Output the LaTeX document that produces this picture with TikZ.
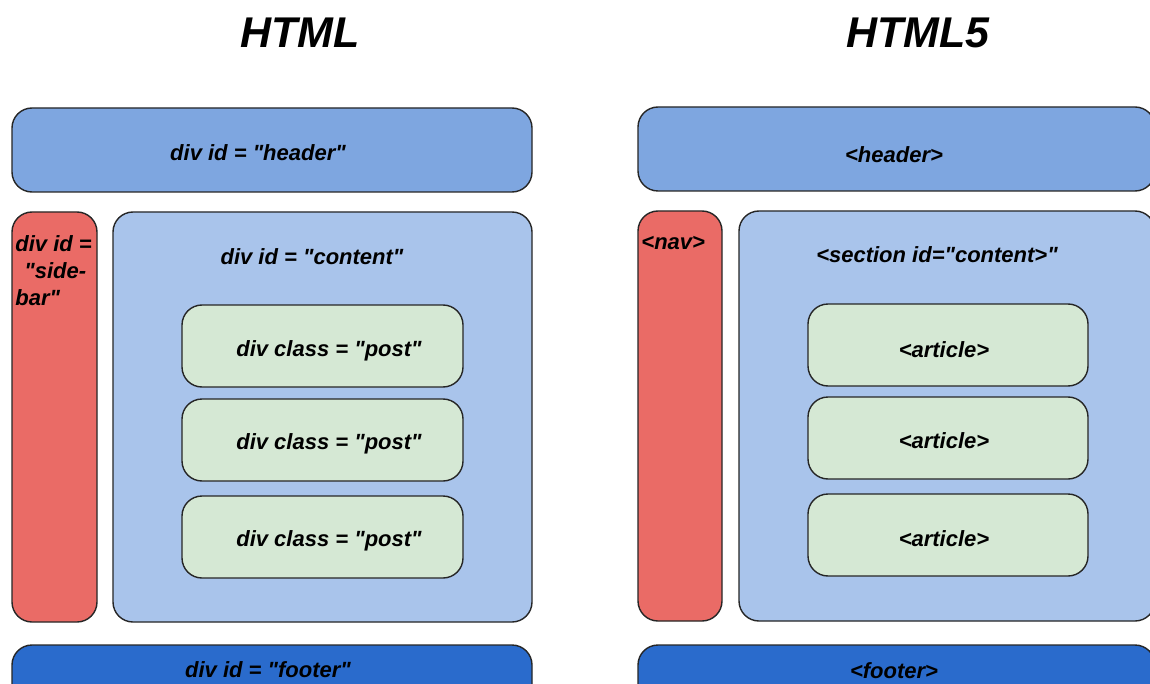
\documentclass[tikz,border=0pt]{standalone}
\usepackage{fontspec}
\setmainfont{Liberation Sans}[Ligatures=TeXOff]
\usetikzlibrary{positioning}
\definecolor{hdrblue}{HTML}{7EA6E0}
\definecolor{sidered}{HTML}{EA6B66}
\definecolor{contblue}{HTML}{A9C4EB}
\definecolor{postgreen}{HTML}{D5E8D4}
\definecolor{footblue}{HTML}{2A6BCC}
\tikzset{
  box/.style={draw=black!85, line width=0.7pt, rounded corners=10pt, inner sep=0pt},
  lbl/.style={font=\fontsize{11}{13.5}\selectfont\bfseries\itshape, inner sep=0pt},
  ttl/.style={font=\fontsize{21.5}{24}\selectfont\bfseries\itshape, inner sep=0pt}
}
\begin{document}
\begin{tikzpicture}[x=0.5pt,y=-0.5pt]
\useasboundingbox[fill=white] (0,0) rectangle (1150,684);
\node[ttl] (ttlL) at (300,33) {HTML};
\node[ttl] (ttlR) at (918,33) {HTML5};
\node[box, fill=hdrblue, minimum width=260pt, minimum height=42pt] (hdrL) at (272,150) {};
\node[box, fill=sidered, minimum width=42.5pt, minimum height=205pt] (sideL) at (54.5,417) {};
\node[box, fill=contblue, minimum width=209.5pt, minimum height=205pt] (contL) at (322.5,417) {};
\node[box, fill=postgreen, minimum width=140.5pt, minimum height=41pt] (postA) at (322.5,346) {};
\node[box, fill=postgreen, minimum width=140.5pt, minimum height=41pt] (postB) at (322.5,440) {};
\node[box, fill=postgreen, minimum width=140.5pt, minimum height=41pt] (postC) at (322.5,537) {};
\node[box, fill=footblue, minimum width=260pt, minimum height=42pt] (footL) at (272,687) {};
\node[box, fill=hdrblue, minimum width=258.5pt, minimum height=42pt] (hdrR) at (896.5,149) {};
\node[box, fill=sidered, minimum width=42pt, minimum height=205pt] (navR) at (680,416) {};
\node[box, fill=contblue, minimum width=208pt, minimum height=205pt] (secR) at (947,416) {};
\node[box, fill=postgreen, minimum width=140pt, minimum height=41pt] (artA) at (948,345) {};
\node[box, fill=postgreen, minimum width=140pt, minimum height=41pt] (artB) at (948,438) {};
\node[box, fill=postgreen, minimum width=140pt, minimum height=41pt] (artC) at (948,535) {};
\node[box, fill=footblue, minimum width=258.5pt, minimum height=42pt] (footR) at (896.5,687) {};
\node[lbl] (hdrLtxt) at (258,153) {div id = "header"};
\node[lbl, anchor=north west, align=left] (sideLtxt) at (15,235) {div id =\\\hspace{4.5pt}"side-\\bar"};
\node[lbl] (contLtxt) at (312,257) {div id = "content"};
\node[lbl] (postAtxt) at (329,351) {div class = "post"};
\node[lbl] (postBtxt) at (329,444) {div class = "post"};
\node[lbl] (postCtxt) at (329,541) {div class = "post"};
\node[lbl] (footLtxt) at (268,670) {div id = "footer"};
\node[lbl] (hdrRtxt) at (894,155) {<header>};
\node[lbl, anchor=west] (navRtxt) at (641,243) {<nav>};
\node[lbl] (secRtxt) at (937,255) {<section id="content>"};
\node[lbl] (artAtxt) at (944,350) {<article>};
\node[lbl] (artBtxt) at (944,441) {<article>};
\node[lbl] (artCtxt) at (944,539) {<article>};
\node[lbl] (footRtxt) at (894,671) {<footer>};
\end{tikzpicture}
\end{document}
